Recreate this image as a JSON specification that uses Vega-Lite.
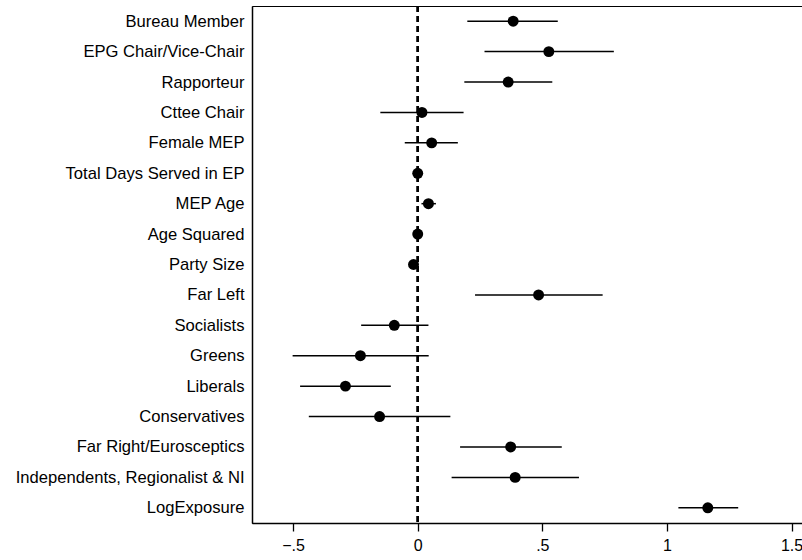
{
  "$schema": "https://vega.github.io/schema/vega-lite/v6.json",
  "width": 550,
  "height": 517,
  "autosize": {"type": "none"},
  "padding": {"left": 252, "top": 6, "right": 0, "bottom": 37},
  "background": "white",
  "config": {
    "view": {"stroke": "black", "strokeWidth": 1},
    "font": "Liberation Sans"
  },
  "data": {
    "values": [
      {"label": "Bureau Member", "coef": 0.383, "lo": 0.199, "hi": 0.562},
      {"label": "EPG Chair/Vice-Chair", "coef": 0.526, "lo": 0.268, "hi": 0.787},
      {"label": "Rapporteur", "coef": 0.363, "lo": 0.187, "hi": 0.540},
      {"label": "Cttee Chair", "coef": 0.017, "lo": -0.150, "hi": 0.184},
      {"label": "Female MEP", "coef": 0.056, "lo": -0.052, "hi": 0.161},
      {"label": "Total Days Served in EP", "coef": 0.0, "lo": -0.004, "hi": 0.004},
      {"label": "MEP Age", "coef": 0.043, "lo": 0.015, "hi": 0.073},
      {"label": "Age Squared", "coef": 0.0, "lo": -0.002, "hi": 0.002},
      {"label": "Party Size", "coef": -0.017, "lo": -0.020, "hi": -0.014},
      {"label": "Far Left", "coef": 0.485, "lo": 0.230, "hi": 0.742},
      {"label": "Socialists", "coef": -0.094, "lo": -0.227, "hi": 0.043},
      {"label": "Greens", "coef": -0.230, "lo": -0.502, "hi": 0.044},
      {"label": "Liberals", "coef": -0.290, "lo": -0.472, "hi": -0.108},
      {"label": "Conservatives", "coef": -0.153, "lo": -0.437, "hi": 0.131},
      {"label": "Far Right/Eurosceptics", "coef": 0.373, "lo": 0.170, "hi": 0.578},
      {"label": "Independents, Regionalist & NI", "coef": 0.391, "lo": 0.136, "hi": 0.647},
      {"label": "LogExposure", "coef": 1.164, "lo": 1.046, "hi": 1.286}
    ]
  },
  "layer": [
    {
      "mark": {"type": "rule", "color": "black", "strokeWidth": 1.6, "strokeDash": [6, 4]},
      "encoding": {
        "x": {"datum": 0, "type": "quantitative", "scale": {"domain": [-0.665, 1.542], "nice": false, "zero": false}}
      }
    },
    {
      "mark": {"type": "rule", "color": "black", "strokeWidth": 1.5},
      "encoding": {
        "y": {"field": "label", "type": "nominal", "sort": null, "scale": {"type": "point", "padding": 0.5},
          "axis": {"title": null, "ticks": false, "domain": true, "domainColor": "black", "domainWidth": 1.5, "labelFontSize": 16.6, "labelColor": "black", "labelPadding": 8, "labelLimit": 300}},
        "x": {"field": "lo", "type": "quantitative", "scale": {"domain": [-0.665, 1.542], "nice": false, "zero": false},
          "axis": {"title": null, "values": [-0.5, 0, 0.5, 1, 1.5], "labelExpr": "replace(format(datum.value, '~g'), '0.', '.')", "grid": false, "tickSize": 8, "tickColor": "black", "tickWidth": 1.3, "domainColor": "black", "domainWidth": 1.5, "labelFontSize": 16, "labelColor": "black", "labelPadding": 6, "labelFlush": false}},
        "x2": {"field": "hi"}
      }
    },
    {
      "mark": {"type": "point", "filled": true, "color": "black", "size": 120, "opacity": 1},
      "encoding": {
        "y": {"field": "label", "type": "nominal", "sort": null},
        "x": {"field": "coef", "type": "quantitative"}
      }
    }
  ]
}
